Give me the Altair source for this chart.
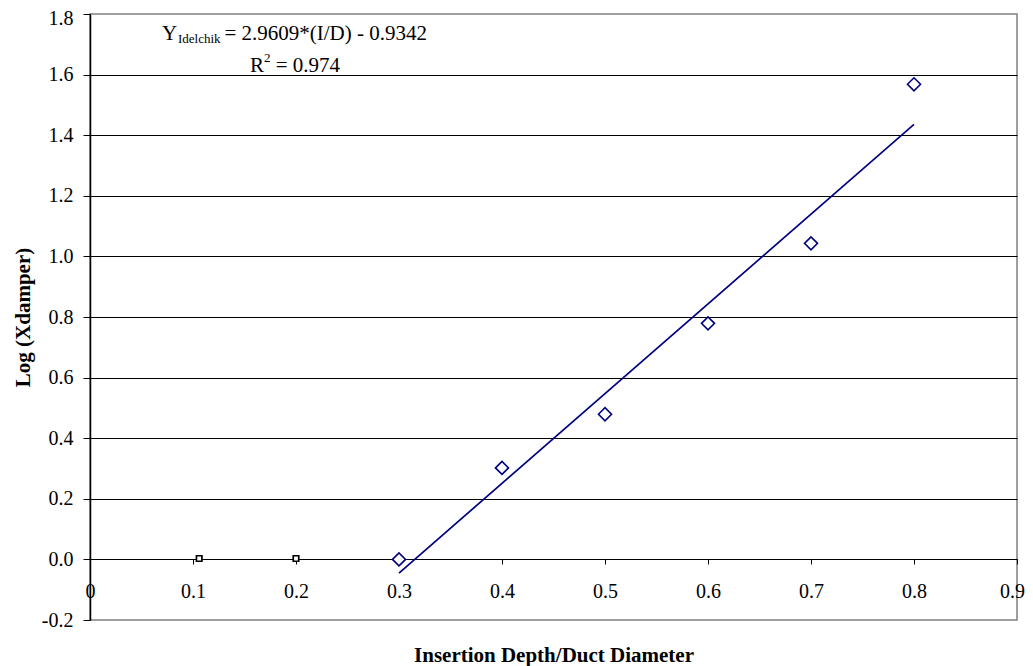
import altair as alt
import pandas as pd

# ---- data ----
x_ticks = [0, 0.1, 0.2, 0.3, 0.4, 0.5, 0.6, 0.7, 0.8, 0.9]
y_ticks = [-0.2, 0.0, 0.2, 0.4, 0.6, 0.8, 1.0, 1.2, 1.4, 1.6, 1.8]

square_x = [0.106, 0.2]
square_y = [0.003, 0.003]

diamond_x = [0.3, 0.4, 0.5, 0.6, 0.7, 0.8]
diamond_y = [0.0, 0.302, 0.479, 0.779, 1.043, 1.568]

eq_main = "= 2.9609*(I/D) - 0.9342"
eq_sub = "Idelchik"
r2_text = "= 0.974"

FONT = "Liberation Serif"
NAVY = "#000080"

sq = pd.DataFrame({"x": square_x, "y": square_y})
dia = pd.DataFrame({"x": diamond_x, "y": diamond_y})
one = pd.DataFrame({"a": [0]})

xs = alt.Scale(domain=[0, 0.9], nice=False, zero=False)
ys = alt.Scale(domain=[-0.2, 1.8], nice=False, zero=False)

xaxis = alt.Axis(
    values=x_ticks,
    labelExpr="datum.value == 0 ? '0' : format(datum.value, '.1f')",
    labelOffset={"condition": {"test": "datum.value > 0.89", "value": -5}, "value": 0},
    offset=-61,
    domainColor="black", domainWidth=1,
    tickColor="black", tickSize=5, tickWidth=1,
    labelPadding=17, labelFont=FONT, labelFontSize=20, labelColor="black",
    labelFlush=False, labelOverlap=False,
    title="Insertion Depth/Duct Diameter",
    titleFont=FONT, titleFontSize=21, titleFontWeight="bold", titleColor="black",
    titlePadding=43,
    grid=False,
)

yaxis = alt.Axis(
    values=y_ticks,
    labelExpr="replace(format(datum.value, '.1f'), '\u2212', '-')",
    labelOffset={"condition": {"test": "datum.value > 1.79", "value": 4}, "value": 0},
    grid=True,
    gridColor={"condition": {"test": "datum.value < -0.19 || datum.value > 1.79", "value": "transparent"}, "value": "black"},
    gridWidth=1,
    domainColor="black", domainWidth=1.5,
    tickColor="black", tickSize=7, tickWidth=1,
    labelPadding=10, labelFont=FONT, labelFontSize=20, labelColor="black",
    labelOverlap=False,
    title="Log (Xdamper)",
    titleFont=FONT, titleFontSize=21, titleFontWeight="bold", titleColor="black",
    titlePadding=8,
)

line = alt.Chart(dia).transform_regression("x", "y").mark_line(
    color=NAVY, strokeWidth=1.7
).encode(
    x=alt.X("x:Q", scale=xs, axis=xaxis),
    y=alt.Y("y:Q", scale=ys, axis=yaxis),
)

diamonds = alt.Chart(dia).mark_point(
    shape="diamond", size=170, filled=True, fill="white", stroke=NAVY,
    strokeWidth=1.6, opacity=1, fillOpacity=1
).encode(x=alt.X("x:Q", scale=xs), y=alt.Y("y:Q", scale=ys))

squares = alt.Chart(sq).mark_point(
    shape="square", size=30, filled=True, fill="white", stroke="black",
    strokeWidth=1.7, opacity=1, fillOpacity=1
).encode(x=alt.X("x:Q", scale=xs), y=alt.Y("y:Q", scale=ys))

def txt(t, x, y, size, align="left"):
    return alt.Chart(one).mark_text(
        text=t, font=FONT, fontSize=size, color="black", align=align,
        baseline="alphabetic"
    ).encode(x=alt.value(x), y=alt.value(y))

labels = [
    txt("Y", 72, 26, 21),
    txt(eq_sub, 88, 29, 13),
    txt(eq_main, 337, 26, 21, "right"),
    txt("R", 160, 58, 21),
    txt("2", 174, 48, 13),
    txt(r2_text, 250, 58, 21, "right"),
]

chart = alt.layer(line, diamonds, squares, *labels).properties(
    width=927, height=606,
    padding={"left": 82, "top": 6, "right": 8, "bottom": 54},
    autosize="none",
).configure_view(stroke="#808080", strokeWidth=1.5)

chart.save("out.html", embed_options={"renderer": "svg", "actions": False})
